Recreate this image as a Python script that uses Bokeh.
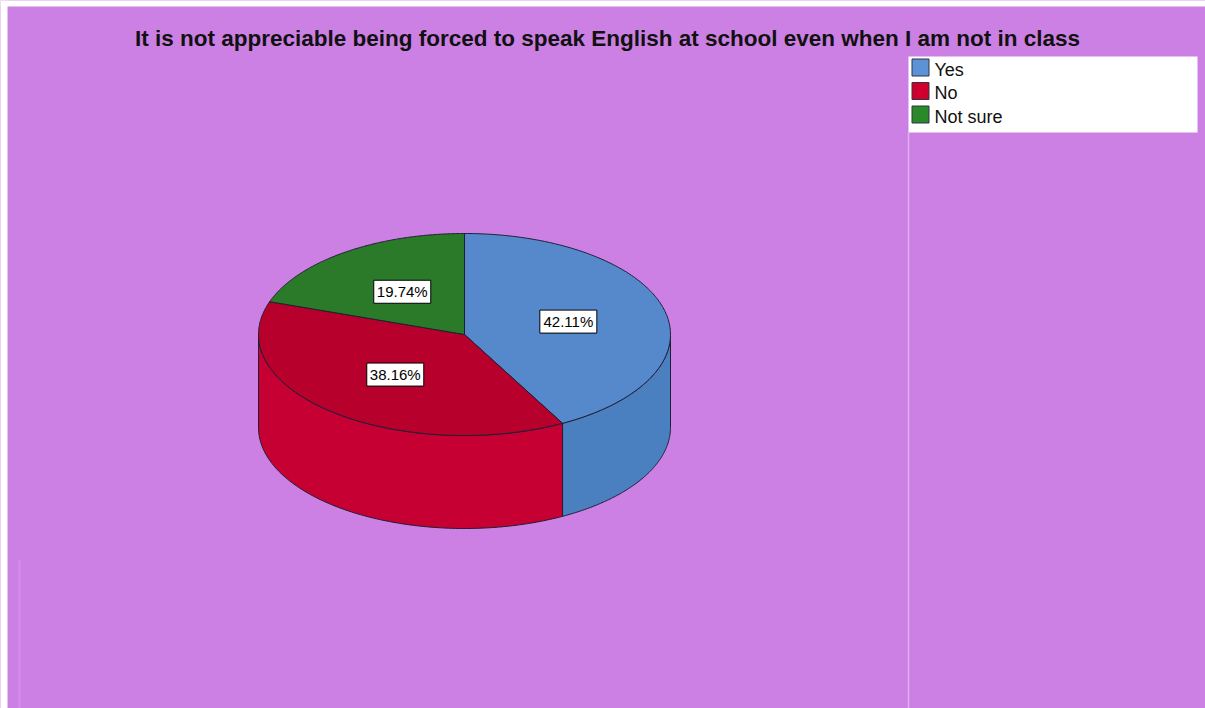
import numpy as np
from bokeh.plotting import figure
from bokeh.models import Range1d
from bokeh.core.properties import value
from bokeh.embed import file_html
from bokeh.resources import INLINE

# ---- data ----
categories = ["Yes", "No", "Not sure"]
percentages = [42.11, 38.16, 19.74]
labels = ["42.11%", "38.16%", "19.74%"]
title_text = "It is not appreciable being forced to speak English at school even when I am not in class"

# ---- styles ----
top_colors = ["#5689cb", "#b8002c", "#2a7a2a"]
side_colors = ["#4a7fc0", "#c60033", "#236a24"]
legend_colors = ["#5b93d6", "#d0002e", "#2a8a2a"]
bg = "#cc80e4"
edge = "#1f1f33"
FONT = "Liberation Sans"

# geometry (page pixel coordinates)
cx, cy, rx, ry, depth = 464.0, 334.0, 206.0, 101.0, 93.0

W, H = 1205, 708
p = figure(width=W, height=H, x_range=Range1d(0, W), y_range=Range1d(H, 0),
           output_backend="svg", toolbar_location=None, min_border=0,
           x_axis_type=None, y_axis_type=None,
           background_fill_color=bg, border_fill_color=bg, outline_line_color=None)
p.grid.visible = False

# white outer margin (left / top)
p.quad(left=[0, 0], right=[7, W], top=[0, 0], bottom=[H, 6], fill_color="white", line_color=None)

# separator line left of legend area
p.segment(x0=[908], y0=[132], x1=[908], y1=[H], line_color="#e2aef2", line_width=1.5)
p.segment(x0=[19], y0=[560], x1=[19], y1=[H], line_color="#d28ee8", line_width=2)

vals = np.array(percentages, dtype=float)
fr = vals / vals.sum()
cum = np.concatenate([[0.0], np.cumsum(fr)])
starts = 90.0 - cum[:-1] * 360.0   # higher angle
ends = 90.0 - cum[1:] * 360.0      # lower angle


def ell(theta_deg, dy=0.0):
    t = np.radians(theta_deg)
    return cx + rx * np.cos(t), cy - ry * np.sin(t) + dy


# side walls (front half only: angles in [-180, 0])
wx, wy, wc = [], [], []
for i in range(len(vals)):
    for k in (-360.0, 0.0, 360.0):
        lo = max(ends[i] + k, -180.0)
        hi = min(starts[i] + k, 0.0)
        if hi - lo > 1e-6:
            th = np.linspace(lo, hi, 120)
            tx, ty = ell(th)
            bx, by = ell(th[::-1], depth)
            wx.append(np.concatenate([tx, bx]).tolist())
            wy.append(np.concatenate([ty, by]).tolist())
            wc.append(side_colors[i])
p.patches(xs=wx, ys=wy, fill_color=wc, line_color=edge, line_width=1)

# top surface slices
sx, sy = [], []
for i in range(len(vals)):
    th = np.linspace(starts[i], ends[i], 200)
    tx, ty = ell(th)
    sx.append([cx] + tx.tolist())
    sy.append([cy] + ty.tolist())
p.patches(xs=sx, ys=sy, fill_color=top_colors, line_color=edge, line_width=1)

# slice labels
mids = (starts + ends) / 2.0
f = 0.52
lx = (cx + f * rx * np.cos(np.radians(mids))).tolist()
ly = (cy - f * ry * np.sin(np.radians(mids))).tolist()
p.rect(x=lx, y=ly, width=57, height=23, fill_color="white", line_color="black", line_width=1)
p.text(x=lx, y=ly, text=labels, text_align="center", text_baseline="middle",
       text_font=value(FONT), text_font_size="15px", text_color="black")

# title
p.text(x=[607], y=[38], text=[title_text], text_align="center", text_baseline="middle",
       text_font=value(FONT), text_font_size="22.5px", text_font_style="bold", text_color="#111111")

# legend
p.quad(left=[908], right=[1197], top=[56], bottom=[132], fill_color="white", line_color=None)
ys = [67 + 23.5 * i for i in range(len(categories))]
p.rect(x=[920] * len(categories), y=ys, width=17, height=17,
       fill_color=legend_colors, line_color="#333344", line_width=1)
p.text(x=[934] * len(categories), y=[v + 2 for v in ys], text=categories, text_align="left",
       text_baseline="middle", text_font=value(FONT), text_font_size="18px", text_color="#111111")

open("out.html", "w").write(file_html(p, INLINE))
